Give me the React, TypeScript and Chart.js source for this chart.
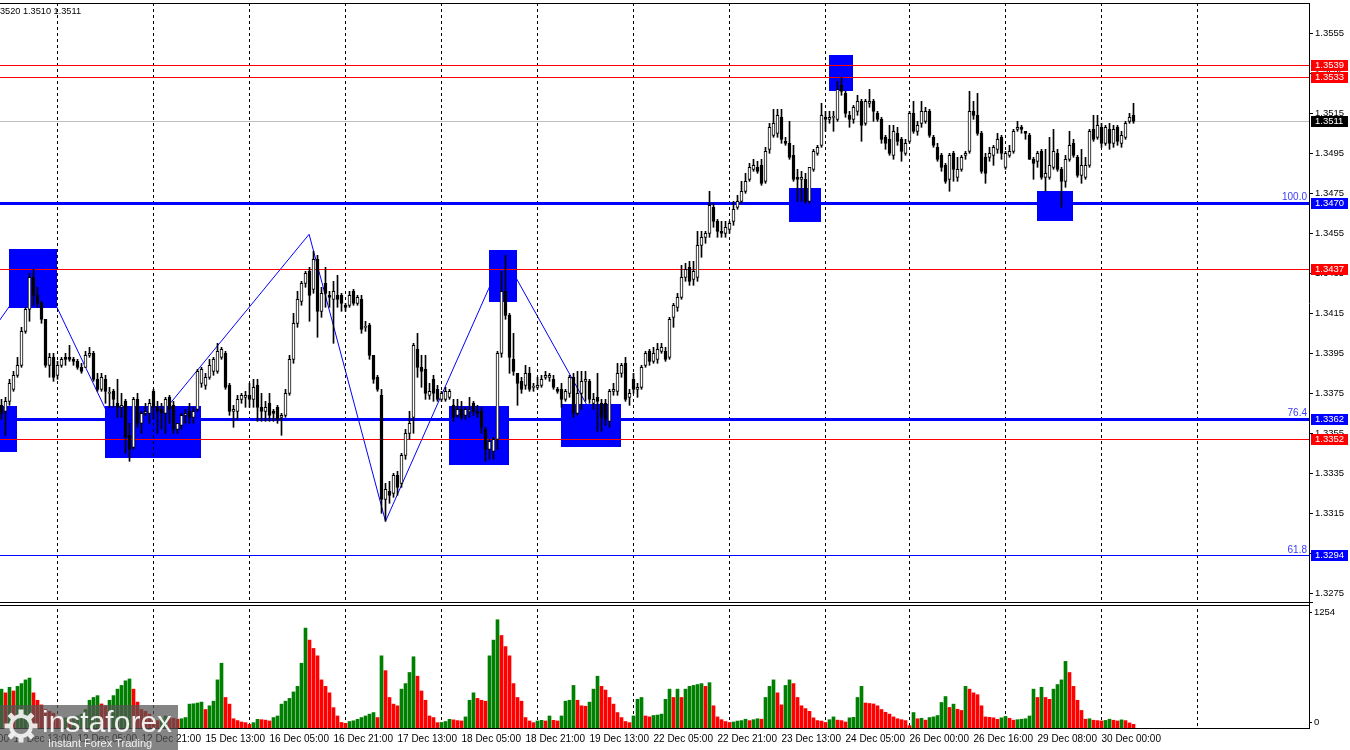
import React, { useEffect, useRef } from "react";
import { Chart, registerables } from "chart.js";

Chart.register(...registerables);

// ---------- candle data (H1, index 0 = 11 Dec 10:00) ----------
const OPEN = [
  1.3369,1.3366,1.3371,1.3377,1.3384,1.3389,1.3406,1.3417,1.3433,1.3424,
  1.3420,1.3412,1.3389,1.3393,1.3384,1.3389,1.3393,1.3393,1.3392,1.3391,
  1.3388,1.3388,1.3394,1.3395,1.3382,1.3377,1.3382,1.3375,1.3376,1.3370,
  1.3368,1.3371,1.3354,1.3348,1.3372,1.3360,1.3365,1.3365,1.3376,1.3368,
  1.3367,1.3365,1.3373,1.3369,1.3357,1.3359,1.3364,1.3366,1.3363,1.3367,
  1.3380,1.3379,1.3383,1.3386,1.3386,1.3393,1.3395,1.3379,1.3366,1.3366,
  1.3372,1.3373,1.3374,1.3372,1.3379,1.3368,1.3366,1.3370,1.3366,1.3368,
  1.3363,1.3364,1.3375,1.3392,1.3410,1.3421,1.3430,1.3436,1.3427,1.3442,
  1.3416,1.3430,1.3424,1.3422,1.3424,1.3424,1.3419,1.3419,1.3426,1.3420,
  1.3422,1.3408,1.3409,1.3394,1.3383,1.3374,1.3322,1.3326,1.3325,1.3334,
  1.3330,1.3344,1.3355,1.3363,1.3397,1.3388,1.3387,1.3374,1.3382,1.3377,
  1.3372,1.3372,1.3373,1.3369,1.3364,1.3367,1.3364,1.3366,1.3370,1.3366,
  1.3366,1.3357,1.3347,1.3346,1.3352,1.3395,1.3426,1.3414,1.3392,1.3385,
  1.3381,1.3379,1.3385,1.3378,1.3378,1.3379,1.3383,1.3383,1.3382,1.3377,
  1.3377,1.3372,1.3375,1.3383,1.3365,1.3375,1.3381,1.3381,1.3370,1.3373,
  1.3370,1.3370,1.3361,1.3376,1.3376,1.3385,1.3390,1.3373,1.3382,1.3377,
  1.3378,1.3389,1.3396,1.3391,1.3392,1.3396,1.3396,1.3393,1.3413,1.3418,
  1.3423,1.3433,1.3438,1.3432,1.3433,1.3449,1.3453,1.3455,1.3468,1.3461,
  1.3456,1.3455,1.3457,1.3461,1.3468,1.3471,1.3476,1.3482,1.3487,1.3488,
  1.3489,1.3481,1.3497,1.3504,1.3505,1.3513,1.3501,1.3500,1.3494,1.3483,
  1.3482,1.3482,1.3471,1.3487,1.3495,1.3499,1.3513,1.3512,1.3513,1.3512,
  1.3529,1.3525,1.3514,1.3512,1.3516,1.3521,1.3510,1.3520,1.3521,1.3515,
  1.3512,1.3503,1.3502,1.3494,1.3505,1.3502,1.3495,1.3501,1.3515,1.3506,
  1.3510,1.3511,1.3516,1.3503,1.3498,1.3494,1.3489,1.3482,1.3495,1.3483,
  1.3487,1.3494,1.3496,1.3516,1.3514,1.3505,1.3493,1.3493,1.3494,1.3497,
  1.3503,1.3488,1.3494,1.3496,1.3507,1.3508,1.3506,1.3504,1.3492,1.3491,
  1.3496,1.3483,1.3483,1.3488,1.3495,1.3487,1.3481,1.3492,1.3500,1.3493,
  1.3484,1.3483,1.3489,1.3507,1.3503,1.3508,1.3500,1.3507,1.3500,1.3508,
  1.3500,1.3503,1.3511,1.3514,
];
const HIGH = [
  1.3372,1.3373,1.3382,1.3386,1.3393,1.3408,1.3418,1.3435,1.3437,1.3428,
  1.3421,1.3412,1.3395,1.3395,1.3391,1.3393,1.3395,1.3399,1.3393,1.3392,
  1.3390,1.3396,1.3398,1.3396,1.3385,1.3385,1.3384,1.3378,1.3377,1.3382,
  1.3375,1.3372,1.3360,1.3373,1.3375,1.3366,1.3370,1.3372,1.3377,1.3371,
  1.3370,1.3373,1.3374,1.3371,1.3360,1.3365,1.3367,1.3370,1.3368,1.3387,
  1.3388,1.3385,1.3392,1.3393,1.3400,1.3398,1.3396,1.3380,1.3369,1.3374,
  1.3375,1.3376,1.3380,1.3382,1.3382,1.3375,1.3371,1.3375,1.3367,1.3369,
  1.3365,1.3377,1.3394,1.3415,1.3426,1.3431,1.3436,1.3438,1.3446,1.3444,
  1.3428,1.3438,1.3426,1.3431,1.3434,1.3425,1.3420,1.3426,1.3427,1.3424,
  1.3424,1.3411,1.3410,1.3394,1.3384,1.3377,1.3330,1.3331,1.3335,1.3336,
  1.3345,1.3357,1.3366,1.3400,1.3405,1.3394,1.3394,1.3380,1.3384,1.3379,
  1.3376,1.3378,1.3377,1.3372,1.3372,1.3371,1.3368,1.3373,1.3371,1.3369,
  1.3368,1.3358,1.3352,1.3353,1.3396,1.3436,1.3444,1.3415,1.3405,1.3385,
  1.3383,1.3389,1.3388,1.3380,1.3383,1.3384,1.3386,1.3385,1.3384,1.3378,
  1.3380,1.3377,1.3384,1.3385,1.3386,1.3386,1.3386,1.3382,1.3375,1.3385,
  1.3372,1.3372,1.3377,1.3380,1.3390,1.3390,1.3393,1.3377,1.3385,1.3380,
  1.3389,1.3396,1.3397,1.3398,1.3400,1.3400,1.3398,1.3413,1.3420,1.3425,
  1.3439,1.3440,1.3441,1.3441,1.3456,1.3456,1.3456,1.3476,1.3470,1.3462,
  1.3461,1.3461,1.3461,1.3471,1.3474,1.3481,1.3485,1.3490,1.3492,1.3491,
  1.3492,1.3498,1.3510,1.3517,1.3517,1.3517,1.3503,1.3511,1.3499,1.3487,
  1.3486,1.3485,1.3488,1.3497,1.3499,1.3520,1.3516,1.3516,1.3516,1.3531,
  1.3533,1.3526,1.3516,1.3519,1.3524,1.3522,1.3522,1.3527,1.3522,1.3516,
  1.3513,1.3504,1.3509,1.3509,1.3508,1.3503,1.3502,1.3516,1.3521,1.3511,
  1.3521,1.3518,1.3517,1.3504,1.3500,1.3495,1.3490,1.3495,1.3496,1.3493,
  1.3494,1.3496,1.3526,1.3521,1.3525,1.3506,1.3495,1.3498,1.3499,1.3505,
  1.3504,1.3496,1.3499,1.3507,1.3511,1.3509,1.3506,1.3505,1.3493,1.3496,
  1.3497,1.3497,1.3503,1.3507,1.3497,1.3488,1.3494,1.3506,1.3502,1.3494,
  1.3497,1.3493,1.3507,1.3514,1.3514,1.3510,1.3509,1.3510,1.3509,1.3509,
  1.3506,1.3511,1.3515,1.3520,
];
const LOW = [
  1.3362,1.3354,1.3369,1.3376,1.3383,1.3388,1.3405,1.3411,1.3419,1.3418,
  1.3410,1.3388,1.3383,1.3381,1.3382,1.3388,1.3389,1.3391,1.3389,1.3387,
  1.3385,1.3388,1.3393,1.3381,1.3376,1.3376,1.3370,1.3368,1.3368,1.3363,
  1.3363,1.3345,1.3341,1.3347,1.3358,1.3355,1.3364,1.3360,1.3362,1.3355,
  1.3357,1.3355,1.3360,1.3355,1.3355,1.3357,1.3360,1.3360,1.3360,1.3366,
  1.3378,1.3377,1.3382,1.3384,1.3385,1.3392,1.3377,1.3364,1.3358,1.3362,
  1.3370,1.3368,1.3368,1.3368,1.3361,1.3361,1.3361,1.3361,1.3361,1.3360,
  1.3354,1.3363,1.3374,1.3390,1.3408,1.3419,1.3428,1.3411,1.3425,1.3403,
  1.3413,1.3418,1.3418,1.3400,1.3418,1.3416,1.3416,1.3418,1.3419,1.3419,
  1.3405,1.3406,1.3392,1.3380,1.3376,1.3315,1.3311,1.3320,1.3323,1.3324,
  1.3328,1.3342,1.3352,1.3355,1.3383,1.3378,1.3372,1.3372,1.3371,1.3371,
  1.3371,1.3371,1.3372,1.3361,1.3363,1.3362,1.3362,1.3363,1.3364,1.3363,
  1.3355,1.3341,1.3342,1.3342,1.3347,1.3393,1.3412,1.3385,1.3384,1.3369,
  1.3375,1.3377,1.3376,1.3376,1.3377,1.3378,1.3382,1.3381,1.3377,1.3375,
  1.3368,1.3371,1.3373,1.3363,1.3364,1.3367,1.3371,1.3370,1.3367,1.3356,
  1.3356,1.3359,1.3358,1.3374,1.3374,1.3383,1.3371,1.3369,1.3375,1.3373,
  1.3377,1.3388,1.3389,1.3390,1.3390,1.3395,1.3391,1.3392,1.3408,1.3416,
  1.3422,1.3431,1.3429,1.3429,1.3431,1.3443,1.3450,1.3453,1.3458,1.3453,
  1.3453,1.3453,1.3455,1.3459,1.3467,1.3470,1.3475,1.3481,1.3486,1.3485,
  1.3479,1.3480,1.3495,1.3503,1.3503,1.3500,1.3499,1.3492,1.3481,1.3471,
  1.3471,1.3470,1.3470,1.3486,1.3494,1.3498,1.3506,1.3510,1.3506,1.3511,
  1.3524,1.3513,1.3508,1.3510,1.3514,1.3501,1.3509,1.3518,1.3511,1.3511,
  1.3500,1.3497,1.3494,1.3492,1.3499,1.3491,1.3494,1.3500,1.3505,1.3504,
  1.3508,1.3510,1.3503,1.3498,1.3491,1.3486,1.3480,1.3476,1.3481,1.3481,
  1.3486,1.3492,1.3495,1.3512,1.3504,1.3485,1.3480,1.3491,1.3489,1.3495,
  1.3492,1.3487,1.3493,1.3495,1.3506,1.3505,1.3502,1.3492,1.3482,1.3488,
  1.3482,1.3476,1.3482,1.3487,1.3486,1.3468,1.3478,1.3491,1.3493,1.3483,
  1.3480,1.3482,1.3488,1.3501,1.3502,1.3498,1.3499,1.3497,1.3498,1.3499,
  1.3498,1.3502,1.3510,1.3510,
];
const CLOSE = [
  1.3365,1.3371,1.3380,1.3384,1.3389,1.3406,1.3417,1.3433,1.3424,1.3420,
  1.3412,1.3389,1.3393,1.3383,1.3389,1.3392,1.3392,1.3392,1.3391,1.3388,
  1.3386,1.3394,1.3395,1.3382,1.3377,1.3383,1.3376,1.3375,1.3372,1.3368,
  1.3369,1.3353,1.3347,1.3372,1.3360,1.3365,1.3366,1.3370,1.3368,1.3366,
  1.3365,1.3372,1.3367,1.3357,1.3360,1.3364,1.3365,1.3363,1.3366,1.3386,
  1.3387,1.3383,1.3389,1.3392,1.3396,1.3397,1.3378,1.3366,1.3367,1.3372,
  1.3374,1.3374,1.3372,1.3378,1.3368,1.3366,1.3368,1.3364,1.3365,1.3362,
  1.3364,1.3375,1.3392,1.3410,1.3422,1.3430,1.3435,1.3424,1.3442,1.3416,
  1.3425,1.3425,1.3423,1.3426,1.3422,1.3420,1.3418,1.3424,1.3420,1.3423,
  1.3407,1.3408,1.3394,1.3382,1.3377,1.3322,1.3327,1.3324,1.3334,1.3328,
  1.3344,1.3355,1.3360,1.3399,1.3388,1.3386,1.3375,1.3376,1.3375,1.3372,
  1.3375,1.3376,1.3376,1.3363,1.3367,1.3363,1.3367,1.3366,1.3366,1.3365,
  1.3358,1.3347,1.3351,1.3352,1.3395,1.3426,1.3414,1.3393,1.3386,1.3380,
  1.3377,1.3385,1.3377,1.3378,1.3379,1.3382,1.3384,1.3384,1.3378,1.3376,
  1.3372,1.3376,1.3383,1.3365,1.3375,1.3381,1.3382,1.3372,1.3372,1.3371,
  1.3363,1.3362,1.3376,1.3377,1.3385,1.3389,1.3372,1.3375,1.3377,1.3378,
  1.3388,1.3395,1.3391,1.3395,1.3397,1.3398,1.3392,1.3412,1.3419,1.3423,
  1.3433,1.3437,1.3431,1.3436,1.3449,1.3453,1.3455,1.3469,1.3461,1.3456,
  1.3455,1.3458,1.3460,1.3467,1.3471,1.3476,1.3481,1.3488,1.3489,1.3486,
  1.3480,1.3496,1.3508,1.3510,1.3514,1.3502,1.3500,1.3493,1.3482,1.3482,
  1.3483,1.3471,1.3488,1.3496,1.3498,1.3514,1.3512,1.3513,1.3513,1.3527,
  1.3526,1.3515,1.3512,1.3518,1.3521,1.3509,1.3521,1.3521,1.3516,1.3512,
  1.3502,1.3500,1.3495,1.3506,1.3501,1.3496,1.3500,1.3515,1.3506,1.3509,
  1.3516,1.3516,1.3504,1.3499,1.3492,1.3488,1.3481,1.3494,1.3487,1.3487,
  1.3493,1.3495,1.3516,1.3514,1.3505,1.3486,1.3485,1.3495,1.3498,1.3502,
  1.3495,1.3495,1.3496,1.3506,1.3508,1.3507,1.3505,1.3492,1.3490,1.3495,
  1.3483,1.3485,1.3489,1.3496,1.3487,1.3481,1.3492,1.3499,1.3494,1.3484,
  1.3489,1.3489,1.3506,1.3502,1.3509,1.3500,1.3508,1.3500,1.3507,1.3501,
  1.3504,1.3510,1.3513,1.3511,
];
const VOLUME = [
  420,380,440,400,450,480,520,540,380,300,
  250,200,180,160,120,100,110,90,100,130,
  150,200,300,330,350,260,240,300,350,420,
  460,510,530,420,280,200,180,150,90,80,
  100,130,115,105,95,100,113,258,262,270,
  280,200,240,290,520,700,330,258,100,80,
  65,58,40,58,94,90,85,76,113,130,
  258,290,320,390,450,700,1080,950,860,780,
  520,450,380,220,130,60,50,70,78,94,
  113,130,150,167,113,780,620,330,258,240,
  420,480,600,770,560,400,300,130,113,58,
  60,70,94,88,80,76,120,300,380,320,
  300,290,780,950,1170,1000,880,780,480,330,
  290,113,76,58,76,83,76,130,83,76,
  130,290,300,460,300,240,235,280,420,560,
  450,410,330,258,167,113,70,58,130,310,
  330,130,120,135,140,150,310,420,330,420,
  330,420,450,460,470,480,450,490,240,120,
  90,70,60,65,75,80,95,80,90,100,
  95,330,450,520,380,250,460,520,480,330,
  240,210,180,110,80,75,60,90,120,85,
  80,65,110,115,330,450,270,265,260,240,
  200,170,150,120,100,90,80,25,167,100,
  105,85,113,120,135,276,340,222,258,203,
  190,450,420,380,360,240,120,115,110,94,
  110,125,105,85,90,95,100,130,420,330,
  440,330,310,420,470,520,720,600,450,300,
  190,95,100,84,80,76,82,95,84,76,
  88,80,55,40,
];

// ---------- axes / annotations ----------
const PRICE_TICKS = [1.3275,1.3295,1.3315,1.3335,1.3355,1.3375,1.3395,1.3415,1.3435,1.3455,1.3475,1.3495,1.3515,1.3535,1.3555];
const VOLUME_TICKS = [0, 1254];
const TIME_INDEX = [-13,3,19,35,51,67,83,99,115,131,147,163,179,195,211,227,243,259,275];
const TIME_TEXT = ["10 Dec 21:00","11 Dec 13:00","12 Dec 05:00","12 Dec 21:00","15 Dec 13:00","16 Dec 05:00","16 Dec 21:00","17 Dec 13:00","18 Dec 05:00","18 Dec 21:00","19 Dec 13:00","22 Dec 05:00","22 Dec 21:00","23 Dec 13:00","24 Dec 05:00","26 Dec 00:00","26 Dec 16:00","29 Dec 08:00","30 Dec 00:00"];
const DAY_INDEX = [14,38,62,86,110,134,158,182,206,227,251,275,299];

const LEVEL_PRICE = [1.3539,1.3533,1.3470,1.3437,1.3362,1.3352,1.3294];
const LEVEL_COLOR = ["#ff0000","#ff0000","#0000ff","#ff0000","#0000ff","#ff0000","#0000ff"];
const LEVEL_WIDTH = [1,1,3,1,3,1,1];
const LEVEL_TAG = ["","","100.0","","76.4","","61.8"];
const CURRENT_PRICE = 1.3511;

const RECT_X0 = [-0.4,1.9,25.9,111.9,121.9,139.9,196.9,206.9,258.9];
const RECT_X1 = [3.8,13.95,49.8,126.8,128.8,154.8,204.8,212.8,267.8];
const RECT_TOP = [1.33688,1.344715,1.33688,1.33688,1.344665,1.336965,1.34778,1.354415,1.347615];
const RECT_BOTTOM = [1.33458,1.34175,1.33428,1.333915,1.34208,1.334815,1.34608,1.35263,1.34613];

const ZZ_INDEX = [-10,9,31.5,76.9,96,125.5,150];
const ZZ_PRICE = [1.33845,1.34384,1.3344,1.34545,1.3311,1.3444,1.3356];

const HEADER = "GBPUSD,H1  1.3514 1.3520 1.3510 1.3511";
const FONT = "'Liberation Sans', Arial, Helvetica, sans-serif";

const overlayPlugin = {
  id: "mtOverlay",
  beforeDatasetDraw(chart: any, args: any) {
    if (args.index !== 1) return;
    const { ctx, chartArea: ca } = chart;
    const xs = chart.scales.x;
    const ys = chart.scales.y;
    const w = ca.right - ca.left;
    // rectangles (price pane)
    ctx.save();
    ctx.beginPath();
    ctx.rect(ca.left, ca.top, w, ys.bottom - ca.top);
    ctx.clip();
    ctx.fillStyle = "#0000ff";
    for (let k = 0; k < RECT_X0.length; k++) {
      const x0 = Math.round(xs.getPixelForValue(RECT_X0[k]));
      const x1 = Math.round(xs.getPixelForValue(RECT_X1[k]));
      const y0 = Math.round(ys.getPixelForValue(RECT_TOP[k]));
      const y1 = Math.round(ys.getPixelForValue(RECT_BOTTOM[k]));
      ctx.fillRect(x0, y0, x1 - x0, y1 - y0);
    }
    ctx.restore();
    // day separators
    ctx.save();
    ctx.beginPath();
    ctx.rect(ca.left, ca.top, w, ca.bottom - ca.top);
    ctx.clip();
    ctx.strokeStyle = "#000000";
    ctx.lineWidth = 1;
    ctx.setLineDash([3, 3]);
    ctx.beginPath();
    for (const d of DAY_INDEX) {
      const x = Math.floor(xs.getPixelForValue(d)) + 0.5;
      ctx.moveTo(x, ca.top);
      ctx.lineTo(x, ca.bottom);
    }
    ctx.stroke();
    ctx.restore();
    // horizontal levels (filled strips, crisp)
    ctx.save();
    ctx.beginPath();
    ctx.rect(ca.left, ca.top, w, ys.bottom - ca.top);
    ctx.clip();
    ctx.fillStyle = "#c0c0c0";
    ctx.fillRect(ca.left, Math.floor(ys.getPixelForValue(CURRENT_PRICE)), w, 1);
    for (let k = 0; k < LEVEL_PRICE.length; k++) {
      const lw = LEVEL_WIDTH[k];
      const yy = ys.getPixelForValue(LEVEL_PRICE[k]);
      const top = Math.round(yy - lw / 2);
      ctx.fillStyle = LEVEL_COLOR[k];
      ctx.fillRect(ca.left, top, w, lw);
      if (LEVEL_TAG[k]) {
        ctx.fillStyle = "#3a3aff";
        ctx.font = `10px ${FONT}`;
        ctx.textAlign = "right";
        ctx.textBaseline = "alphabetic";
        ctx.fillText(LEVEL_TAG[k], ca.right - 2, top - 2);
      }
    }
    ctx.restore();
  },
  afterDraw(chart: any) {
    const { ctx, chartArea: ca } = chart;
    const xs = chart.scales.x;
    const ys = chart.scales.y;
    const yv = chart.scales.yv;
    ctx.save();
    // frame
    ctx.fillStyle = "#000000";
    ctx.fillRect(0, ca.top, ca.right, 1);
    const pb = Math.round(ys.bottom);
    ctx.fillStyle = "#ffffff";
    ctx.fillRect(0, pb, ca.right, 2);
    ctx.fillStyle = "#000000";
    ctx.fillRect(0, pb - 1, ca.right + 4, 1);
    ctx.fillRect(0, pb + 2, ca.right, 1);
    // right side value boxes
    const boxes = LEVEL_PRICE.map((p, k) => ({ p, c: LEVEL_COLOR[k] }));
    boxes.push({ p: CURRENT_PRICE, c: "#000000" });
    ctx.font = `9.5px ${FONT}`;
    ctx.textAlign = "left";
    ctx.textBaseline = "middle";
    for (const b of boxes) {
      const y = Math.round(ys.getPixelForValue(b.p));
      ctx.fillStyle = b.c;
      ctx.fillRect(ca.right + 2, y - 5, 37, 11);
      ctx.fillStyle = "#ffffff";
      ctx.fillText(b.p.toFixed(4), ca.right + 6, y + 0.5);
    }
    // volume scale labels
    ctx.fillStyle = "#000000";
    for (const v of VOLUME_TICKS) {
      const y = Math.round(yv.getPixelForValue(v));
      const ty = v === 0 ? y - 6 : y;
      ctx.fillText(String(v), ca.right + 5, ty);
      ctx.fillRect(ca.right, ty, 3, 1);
    }
    // time labels
    ctx.font = `10px ${FONT}`;
    ctx.textBaseline = "middle";
    for (let k = 0; k < TIME_INDEX.length; k++) {
      const x = xs.getPixelForValue(TIME_INDEX[k]);
      ctx.fillText(TIME_TEXT[k], x, ca.bottom + 11);
    }
    // header
    ctx.font = `9.2px ${FONT}`;
    ctx.textAlign = "right";
    ctx.fillText(HEADER, 81, 11);
    // watermark
    ctx.fillStyle = "rgba(85,85,85,0.72)";
    ctx.fillRect(0, 705, 178, 45);
    ctx.strokeStyle = "rgba(255,255,255,0.85)";
    ctx.fillStyle = "rgba(255,255,255,0.85)";
    ctx.lineWidth = 4;
    ctx.beginPath();
    ctx.arc(21, 726, 10, 0, Math.PI * 2);
    ctx.stroke();
    for (let t = 0; t < 8; t++) {
      const a = (t * Math.PI) / 4;
      ctx.save();
      ctx.translate(21 + Math.cos(a) * 14, 726 + Math.sin(a) * 14);
      ctx.rotate(a);
      ctx.fillRect(-2.5, -2.5, 5, 5);
      ctx.restore();
    }
    ctx.fillStyle = "rgba(255,255,255,0.9)";
    ctx.textAlign = "left";
    ctx.textBaseline = "alphabetic";
    ctx.font = `30px ${FONT}`;
    ctx.fillText("instaforex", 42, 732);
    ctx.font = `11px ${FONT}`;
    ctx.fillText("Instant Forex Trading", 48, 747);
    ctx.restore();
  },
};

function buildConfig(): any {
  const idx = CLOSE.map((_, i) => i);
  const wicks = idx.map((i) => ({ x: i, y: [LOW[i], HIGH[i]] }));
  const bodies = idx.map((i) => ({ x: i, y: [OPEN[i], CLOSE[i]] }));
  const bodyColors = idx.map((i) => (CLOSE[i] >= OPEN[i] ? "#ffffff" : "#000000"));
  const vols = idx.map((i) => ({ x: i, y: VOLUME[i] }));
  const volColors = idx.map((i) => (i === 0 || VOLUME[i] > VOLUME[i - 1] ? "#008000" : "#ff0000"));
  const zz = ZZ_INDEX.map((x, k) => ({ x, y: ZZ_PRICE[k] }));

  const fitRight = (s: any) => {
    s.width = 41;
    s.paddingTop = 0;
    s.paddingBottom = 0;
  };

  return {
    type: "bar",
    data: {
      datasets: [
        {
          type: "line",
          data: zz,
          yAxisID: "y",
          borderColor: "#0000ff",
          borderWidth: 1,
          pointRadius: 0,
          fill: false,
          tension: 0,
          order: 10,
        },
        {
          data: wicks,
          yAxisID: "y",
          backgroundColor: "#000000",
          barThickness: 1,
          grouped: false,
          order: 3,
        },
        {
          data: bodies,
          yAxisID: "y",
          backgroundColor: bodyColors,
          borderColor: "#000000",
          borderWidth: 1,
          borderSkipped: false,
          barThickness: 3,
          minBarLength: 1,
          grouped: false,
          order: 2,
        },
        {
          data: vols,
          yAxisID: "yv",
          backgroundColor: volColors,
          barThickness: 3,
          grouped: false,
          order: 1,
        },
      ],
    },
    options: {
      animation: false,
      responsive: false,
      devicePixelRatio: 1,
      events: [],
      layout: { padding: { top: 3, left: 0, right: 0, bottom: 0 } },
      plugins: { legend: { display: false }, tooltip: { enabled: false } },
      scales: {
        x: {
          type: "linear",
          min: -0.375,
          max: 326.875,
          offset: false,
          grid: { display: false, offset: false },
          border: { display: true, color: "#000" },
          ticks: { display: false },
          afterFit: (s: any) => {
            s.height = 22;
            s.paddingLeft = 0;
            s.paddingRight = 0;
          },
        },
        y: {
          type: "linear",
          position: "right",
          stack: "pane",
          stackWeight: 600,
          min: 1.327015,
          max: 1.357015,
          beginAtZero: false,
          grid: { display: true, drawOnChartArea: false, drawTicks: true, tickLength: 4, color: "#000" },
          border: { display: true, color: "#000" },
          ticks: {
            autoSkip: false,
            padding: 2,
            color: "#000",
            font: { size: 9.5, family: FONT },
            callback: (v: any) => Number(v).toFixed(4),
          },
          afterBuildTicks: (s: any) => {
            s.ticks = PRICE_TICKS.map((v) => ({ value: v }));
          },
          afterFit: fitRight,
        },
        yv: {
          type: "linear",
          position: "right",
          stack: "pane",
          stackWeight: 125,
          min: 0,
          max: 1351,
          grid: { display: false },
          border: { display: true, color: "#000" },
          ticks: { display: false },
          afterFit: fitRight,
        },
      },
    },
    plugins: [overlayPlugin],
  };
}

export default function App() {
  const ref = useRef<HTMLCanvasElement | null>(null);
  useEffect(() => {
    document.body.style.margin = "0";
    Chart.defaults.font.family = FONT;
    const chart = new Chart(ref.current as HTMLCanvasElement, buildConfig());
    return () => chart.destroy();
  }, []);
  return (
    <div style={{ width: 1350, height: 750, background: "#fff" }}>
      <canvas ref={ref} width={1350} height={750} style={{ display: "block" }} />
    </div>
  );
}
